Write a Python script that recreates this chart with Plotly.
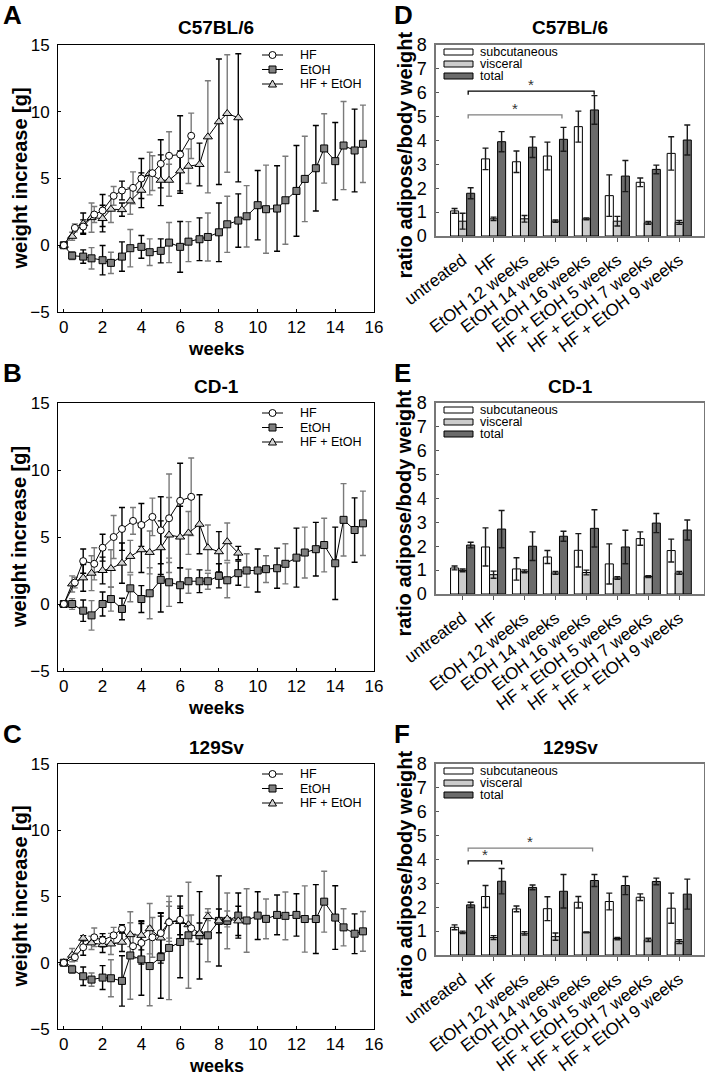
import plotly.graph_objects as go

W, H = 705, 1076
FONT = "Liberation Sans, Arial, sans-serif"

# ---------------- line chart data (weeks) ----------------
t_hf = [0, 0.57, 1, 1.57, 2, 2.57, 3, 3.57, 4, 4.57, 5, 5.43, 6, 6.57]
t_hfe = [0, 0.43, 1, 1.43, 2, 2.43, 3, 3.43, 4, 4.43, 5, 5.43, 6, 6.43, 7, 7.43, 8, 8.43, 9]
t_etoh = [0, 0.43, 1, 1.43, 2, 2.43, 3, 3.43, 4, 4.43, 5, 5.43, 6, 6.43, 7, 7.43,
          8, 8.43, 9, 9.43, 10, 10.43, 11, 11.43, 12, 12.43, 13, 13.43, 14, 14.43, 15, 15.43]

# A: C57BL/6
A_hf = [0, 1.3, 1.4, 2.3, 2.6, 3.7, 4.1, 4.3, 5.0, 5.4, 6.1, 6.7, 6.8, 8.2]
A_hf_err = [0, 0.3, 0.5, 0.6, 1.2, 0.7, 0.7, 1.2, 1.5, 1.3, 1.8, 1.8, 2.9, 1.7]
A_hfe = [0, 0.67, 1.62, 2.07, 2.0, 2.7, 2.67, 3.32, 4.12, 5.37, 4.87, 4.87, 5.57, 5.92, 6.05, 8.12, 9.25, 9.87, 9.55]
A_hfe_err = [0, 0.3, 0.8, 1.1, 1.0, 1.0, 0.5, 1.0, 1.3, 1.6, 1.9, 1.2, 1.5, 1.3, 1.6, 4.2, 4.7, 4.4, 4.8]
A_etoh = [0, -0.78, -0.85, -0.98, -1.12, -1.32, -0.85, -0.22, -0.12, -0.52, -0.42, 0.2, -0.12, 0.27, 0.45, 0.62,
          0.97, 1.57, 1.85, 2.17, 3.0, 2.7, 2.75, 3.37, 4.07, 4.97, 5.77, 7.25, 6.3, 7.47, 7.1, 7.6]
A_etoh_err = [0, 0.3, 0.5, 0.8, 1.1, 0.8, 1.1, 1.4, 0.85, 1.0, 0.9, 1.5, 1.9, 1.5, 1.6, 1.8,
              2.2, 2.1, 2.0, 2.3, 2.6, 3.3, 3.2, 3.3, 3.4, 3.2, 3.2, 2.6, 2.9, 3.3, 3.1, 2.9]

# B: CD-1
B_hf = [0, 1.6, 3.2, 3.0, 4.2, 5.0, 5.6, 6.2, 5.9, 6.5, 5.5, 6.4, 7.7, 8.0]
B_hf_err = [0, 0.4, 0.9, 1.2, 1.0, 1.6, 1.6, 1.0, 1.6, 1.4, 2.5, 3.3, 2.8, 2.9]
B_hfe = [0, 1.5, 1.95, 2.3, 2.5, 2.65, 3.05, 3.55, 4.05, 3.85, 4.2, 5.15, 5.0, 5.3, 5.95, 4.2, 3.9, 4.65, 3.8]
B_hfe_err = [0, 0.6, 1.0, 1.3, 1.0, 1.4, 1.5, 1.2, 1.7, 1.6, 2.0, 2.8, 2.3, 1.6, 2.2, 1.7, 1.5, 1.4, 0.5]
B_etoh = [0, 0.0, -0.5, -0.85, 0.0, 0.37, -0.37, 1.17, 0.37, 0.8, 1.8, 1.62, 1.4, 1.7, 1.7, 1.7,
          2.1, 1.77, 2.3, 2.5, 2.5, 2.6, 2.67, 3.0, 3.46, 3.84, 4.09, 4.4, 3.04, 6.28, 5.52, 6.02]
B_etoh_err = [0, 0.4, 0.8, 1.1, 0.9, 0.9, 0.8, 1.0, 1.0, 1.9, 2.4, 1.8, 1.3, 0.9, 0.85, 0.6,
              0.9, 1.3, 0.9, 1.25, 1.6, 1.0, 1.5, 1.5, 2.2, 1.9, 2.0, 2.0, 2.7, 2.7, 2.4, 2.4]

# C: 129Sv
C_hf = [0, 0.42, 1.17, 1.92, 1.7, 2.07, 2.57, 1.25, 1.5, 1.92, 2.24, 3.06, 3.24, 2.6]
C_hf_err = [0, 0.3, 0.6, 0.7, 0.5, 0.6, 0.3, 0.9, 1.6, 1.5, 1.5, 1.2, 1.8, 1.0]
C_hfe = [0, 0.57, 1.85, 1.5, 1.37, 1.42, 1.55, 2.12, 2.07, 2.57, 1.87, 3.11, 3.11, 2.87, 2.2, 3.49, 3.16, 3.31, 3.16]
C_hfe_err = [0, 0.5, 0.2, 0.5, 0.6, 0.8, 0.7, 0.9, 1.1, 1.9, 1.9, 1.5, 1.0, 0.7, 0.8, 0.3, 0.9, 0.6, 1.1]
C_etoh = [0, -0.5, -1.02, -1.27, -1.12, -1.17, -1.37, 0.55, 0.25, -0.25, 0.42, 1.12, 1.57, 2.07, 2.07, 2.07,
          3.16, 3.16, 3.56, 3.19, 3.56, 3.31, 3.61, 3.54, 3.61, 3.3, 3.3, 4.61, 3.41, 2.67, 2.19, 2.37]
C_etoh_err = [0, 0.3, 0.7, 0.5, 0.9, 1.4, 1.9, 3.3, 2.7, 3.0, 3.1, 3.9, 2.7, 4.0, 3.3, 2.0,
              3.4, 2.1, 1.7, 2.4, 1.8, 1.5, 1.5, 1.8, 1.6, 2.5, 2.6, 2.3, 2.4, 1.4, 1.5, 1.5]

line_ticks_x = [0, 2, 4, 6, 8, 10, 12, 14, 16]
line_ticks_y = [-5, 0, 5, 10, 15]
series_names = ["HF", "EtOH", "HF + EtOH"]

# ---------------- bar chart data ----------------
categories = ["untreated", "HF", "EtOH 12 weeks", "EtOH 14 weeks", "EtOH 16 weeks",
              "HF + EtOH 5 weeks", "HF + EtOH 7 weeks", "HF + EtOH 9 weeks"]
bar_names = ["subcutaneous", "visceral", "total"]

D_sub = [1.05, 3.23, 3.11, 3.35, 4.58, 1.69, 2.25, 3.46]
D_sub_err = [0.1, 0.45, 0.45, 0.58, 0.65, 0.87, 0.18, 0.7]
D_vis = [0.62, 0.72, 0.72, 0.62, 0.72, 0.62, 0.55, 0.57]
D_vis_err = [0.33, 0.07, 0.14, 0.05, 0.04, 0.2, 0.06, 0.08]
D_tot = [1.79, 3.95, 3.72, 4.05, 5.28, 2.51, 2.79, 4.02]
D_tot_err = [0.23, 0.42, 0.43, 0.5, 0.6, 0.65, 0.18, 0.63]

E_sub = [1.09, 1.97, 1.05, 1.55, 1.83, 1.26, 2.32, 1.82]
E_sub_err = [0.08, 0.8, 0.47, 0.27, 0.7, 0.84, 0.28, 0.48]
E_vis = [0.99, 0.81, 0.95, 0.88, 0.9, 0.67, 0.73, 0.88]
E_vis_err = [0.06, 0.15, 0.06, 0.06, 0.1, 0.05, 0.04, 0.06]
E_tot = [2.05, 2.72, 2.0, 2.42, 2.75, 1.97, 2.97, 2.68]
E_tot_err = [0.12, 0.78, 0.6, 0.21, 0.78, 0.7, 0.4, 0.42]

F_sub = [1.16, 2.45, 1.93, 1.94, 2.21, 2.24, 2.42, 1.96]
F_sub_err = [0.1, 0.46, 0.12, 0.5, 0.24, 0.35, 0.14, 0.63]
F_vis = [0.95, 0.73, 0.91, 0.77, 0.95, 0.69, 0.63, 0.56]
F_vis_err = [0.05, 0.08, 0.07, 0.15, 0.02, 0.05, 0.07, 0.08]
F_tot = [2.1, 3.09, 2.83, 2.67, 3.12, 2.91, 3.08, 2.55]
F_tot_err = [0.11, 0.53, 0.1, 0.7, 0.25, 0.38, 0.14, 0.63]

bar_ticks_y = [0, 1, 2, 3, 4, 5, 6, 7, 8]

# significance brackets: (x start, x end, y level, color)
D_sig = [(0.18, 4.25, 6.07, "black"), (0.18, 3.21, 5.07, "#808080")]
F_sig = [(0.18, 1.26, 3.94, "black"), (0.18, 4.2, 4.48, "#808080")]

# ---------------- layout geometry (pixels) ----------------
def px(x):
    return x / W

def py(y):
    return 1 - y / H

LX0, LX1 = 58, 374
BX0, BX1 = 436, 704
rows = [(45, 312, 45, 236), (403, 671, 403, 594), (764, 1029, 764, 955)]
weeks_font = [18.5, 18.5, 18]
titles = ["C57BL/6", "CD-1", "129Sv"]
letters_left = ["A", "B", "C"]
letters_right = ["D", "E", "F"]

fig = go.Figure()
layout = dict(
    width=W, height=H, margin=dict(l=0, r=0, t=0, b=0),
    template="none", paper_bgcolor="white", plot_bgcolor="white",
    showlegend=False, barmode="group", bargap=0.22, bargroupgap=0,
    font=dict(family=FONT, color="black"),
)
annotations = []
shapes = []

line_sets = [
    (A_hf, A_hf_err, A_etoh, A_etoh_err, A_hfe, A_hfe_err),
    (B_hf, B_hf_err, B_etoh, B_etoh_err, B_hfe, B_hfe_err),
    (C_hf, C_hf_err, C_etoh, C_etoh_err, C_hfe, C_hfe_err),
]
bar_sets = [
    (D_sub, D_sub_err, D_vis, D_vis_err, D_tot, D_tot_err),
    (E_sub, E_sub_err, E_vis, E_vis_err, E_tot, E_tot_err),
    (F_sub, F_sub_err, F_vis, F_vis_err, F_tot, F_tot_err),
]

marker_styles = [
    dict(symbol="circle", size=7, color="white", line=dict(color="black", width=1)),
    dict(symbol="square", size=7, color="#808080", line=dict(color="black", width=1)),
    dict(symbol="triangle-up", size=8, color="#d4d4d4", line=dict(color="black", width=1)),
]
bar_colors = ["white", "#cccccc", "#6b6b6b"]


def add_err_traces(xs, ys, es, xa, ya):
    for start, col in ((0, "black"), (1, "#7a7a7a")):
        fig.add_trace(go.Scatter(
            x=xs[start::2], y=ys[start::2], mode="markers",
            marker=dict(size=1, color="rgba(0,0,0,0)"),
            error_y=dict(type="data", array=es[start::2], visible=True,
                         color=col, thickness=1.4, width=3),
            xaxis=xa, yaxis=ya, hoverinfo="skip"))


for i in range(3):
    ly0, ly1, by0, by1 = rows[i]
    n_l = 2 * i + 1
    n_b = 2 * i + 2
    xl = "x" if n_l == 1 else f"x{n_l}"
    yl = "y" if n_l == 1 else f"y{n_l}"
    xb, yb = f"x{n_b}", f"y{n_b}"
    kl = "" if n_l == 1 else str(n_l)
    kb = str(n_b)

    hf, hf_e, et, et_e, hfe, hfe_e = line_sets[i]
    # error bars first (under markers)
    add_err_traces(t_etoh, et, et_e, xl, yl)
    add_err_traces(t_hfe, hfe, hfe_e, xl, yl)
    add_err_traces(t_hf, hf, hf_e, xl, yl)
    for (tx, vy, ms, nm) in ((t_etoh, et, marker_styles[1], series_names[1]),
                             (t_hfe, hfe, marker_styles[2], series_names[2]),
                             (t_hf, hf, marker_styles[0], series_names[0])):
        fig.add_trace(go.Scatter(x=tx, y=vy, mode="lines+markers", name=nm,
                                 line=dict(color="black", width=1), marker=ms,
                                 xaxis=xl, yaxis=yl))

    layout["xaxis" + kl] = dict(
        domain=[px(LX0), px(LX1)], anchor=yl, range=[-0.3, 16],
        tickmode="array", tickvals=line_ticks_x, ticks="inside", ticklen=3,
        tickcolor="black", showline=True, mirror=True, linecolor="black", linewidth=1,
        showgrid=False, zeroline=False, tickfont=dict(size=17, family=FONT),
        ticklabelstandoff=0)
    layout["yaxis" + kl] = dict(
        domain=[py(ly1), py(ly0)], anchor=xl, range=[-5, 15],
        tickmode="array", tickvals=line_ticks_y, ticks="inside", ticklen=3,
        tickcolor="black", showline=True, mirror=True, linecolor="black", linewidth=1,
        showgrid=False, zeroline=False, tickfont=dict(size=17, family=FONT),
        ticklabelstandoff=4)

    sub, sub_e, vis, vis_e, tot, tot_e = bar_sets[i]
    xpos = list(range(len(categories)))
    for vals, errs, col, nm in ((sub, sub_e, bar_colors[0], bar_names[0]),
                                (vis, vis_e, bar_colors[1], bar_names[1]),
                                (tot, tot_e, bar_colors[2], bar_names[2])):
        fig.add_trace(go.Bar(x=xpos, y=vals, name=nm,
                             marker=dict(color=col, line=dict(color="black", width=1)),
                             error_y=dict(type="data", array=errs, visible=True,
                                          color="#1a1a1a", thickness=1.4, width=3),
                             xaxis=xb, yaxis=yb))
    layout["xaxis" + kb] = dict(
        domain=[px(BX0), px(BX1)], anchor=yb, range=[-0.86, 7.8],
        tickmode="array", tickvals=xpos, ticktext=categories, tickangle=-37,
        ticks="outside", ticklen=4, tickcolor="#555555",
        showline=True, mirror=True, linecolor="#777777", linewidth=1.5,
        showgrid=False, zeroline=False, tickfont=dict(size=17, family=FONT),
        ticklabelstandoff=2)
    layout["yaxis" + kb] = dict(
        domain=[py(by1), py(by0)], anchor=xb, range=[0, 8],
        tickmode="array", tickvals=bar_ticks_y, ticks="inside", ticklen=3,
        tickcolor="#555555", showline=True, mirror=True, linecolor="#777777", linewidth=1.5,
        showgrid=False, zeroline=False, tickfont=dict(size=18, family=FONT),
        ticklabelstandoff=4)

    # titles, letters, axis titles
    annotations.append(dict(text=titles[i], x=px((LX0 + LX1) / 2), y=py(ly0 - 17), xref="paper", yref="paper",
                            showarrow=False, font=dict(size=19, family=FONT, weight="bold"),
                            xanchor="center", yanchor="middle"))
    annotations.append(dict(text=titles[i], x=px((BX0 + BX1) / 2), y=py(by0 - 17), xref="paper", yref="paper",
                            showarrow=False, font=dict(size=19, family=FONT, weight="bold"),
                            xanchor="center", yanchor="middle"))
    annotations.append(dict(text=letters_left[i], x=px(1), y=py(ly0 - 30), xref="paper", yref="paper",
                            showarrow=False, font=dict(size=26, family=FONT, weight="bold"),
                            xanchor="left", yanchor="middle"))
    annotations.append(dict(text=letters_right[i], x=px(392), y=py(by0 - 30), xref="paper", yref="paper",
                            showarrow=False, font=dict(size=26, family=FONT, weight="bold"),
                            xanchor="left", yanchor="middle"))
    annotations.append(dict(text="weight increase [g]", x=px(19), y=py((ly0 + ly1) / 2), xref="paper",
                            yref="paper", textangle=-90, showarrow=False,
                            font=dict(size=20, family=FONT, weight="bold"),
                            xanchor="center", yanchor="middle"))
    annotations.append(dict(text="weeks", x=px((LX0 + LX1) / 2), y=py(ly1 + 36.5), xref="paper",
                            yref="paper", showarrow=False,
                            font=dict(size=weeks_font[i], family=FONT, weight="bold"),
                            xanchor="center", yanchor="middle"))
    annotations.append(dict(text="ratio adipose/body weight", x=px(404), y=py((by0 + by1) / 2 + 15),
                            xref="paper", yref="paper", textangle=-90, showarrow=False,
                            font=dict(size=20, family=FONT, weight="bold"),
                            xanchor="center", yanchor="middle"))

    # legend for line chart
    for j, (nm, ms) in enumerate(zip(series_names, marker_styles)):
        yy = ly0 + 10 + j * 14.5
        shapes.append(dict(type="line", xref="paper", yref="paper", x0=px(262), x1=px(283),
                           y0=py(yy), y1=py(yy), line=dict(color="black", width=1)))
        cx = 272.5
        if ms["symbol"] == "circle":
            shapes.append(dict(type="circle", xref="paper", yref="paper", x0=px(cx - 3.5), x1=px(cx + 3.5),
                               y0=py(yy + 3.5), y1=py(yy - 3.5), fillcolor="white",
                               line=dict(color="black", width=1)))
        elif ms["symbol"] == "square":
            shapes.append(dict(type="rect", xref="paper", yref="paper", x0=px(cx - 3.5), x1=px(cx + 3.5),
                               y0=py(yy + 3.5), y1=py(yy - 3.5), fillcolor="#808080",
                               line=dict(color="black", width=1)))
        else:
            path = "M {:.5f},{:.5f} L {:.5f},{:.5f} L {:.5f},{:.5f} Z".format(
                px(cx - 4), py(yy + 3), px(cx + 4), py(yy + 3), px(cx), py(yy - 4))
            shapes.append(dict(type="path", xref="paper", yref="paper", path=path, fillcolor="#d4d4d4",
                               line=dict(color="black", width=1)))
        annotations.append(dict(text=nm, x=px(298), y=py(yy), xref="paper", yref="paper", showarrow=False,
                                font=dict(size=12.5, family=FONT), xanchor="left", yanchor="middle"))

    # legend for bar chart
    for j, (nm, col) in enumerate(zip(bar_names, bar_colors)):
        yy = by0 + 7 + j * 12
        shapes.append(dict(type="rect", xref="paper", yref="paper", x0=px(444), x1=px(473),
                           y0=py(yy + 3), y1=py(yy - 3), fillcolor=col,
                           line=dict(color="black", width=1)))
        annotations.append(dict(text=nm, x=px(478), y=py(yy), xref="paper", yref="paper", showarrow=False,
                                font=dict(size=12.5, family=FONT), xanchor="left", yanchor="middle"))

# significance brackets
for sig, xa, ya in ((D_sig, "x2", "y2"), (F_sig, "x6", "y6")):
    for (x0, x1, yv, col) in sig:
        shapes.append(dict(type="path", xref=xa, yref=ya,
                           path=f"M {x0},{yv - 0.15} L {x0},{yv} L {x1},{yv} L {x1},{yv - 0.15}",
                           line=dict(color=col, width=1.3)))
        annotations.append(dict(text="*", x=(x0 + x1) / 2, y=yv, xref=xa, yref=ya, showarrow=False,
                                font=dict(size=15, family=FONT, color="#333333"),
                                xanchor="center", yanchor="bottom", yshift=-4))

layout["annotations"] = annotations
layout["shapes"] = shapes
fig.update_layout(**layout)
fig.write_html("out.html", config={"displayModeBar": False},
               post_script="document.body.style.margin='0';")
